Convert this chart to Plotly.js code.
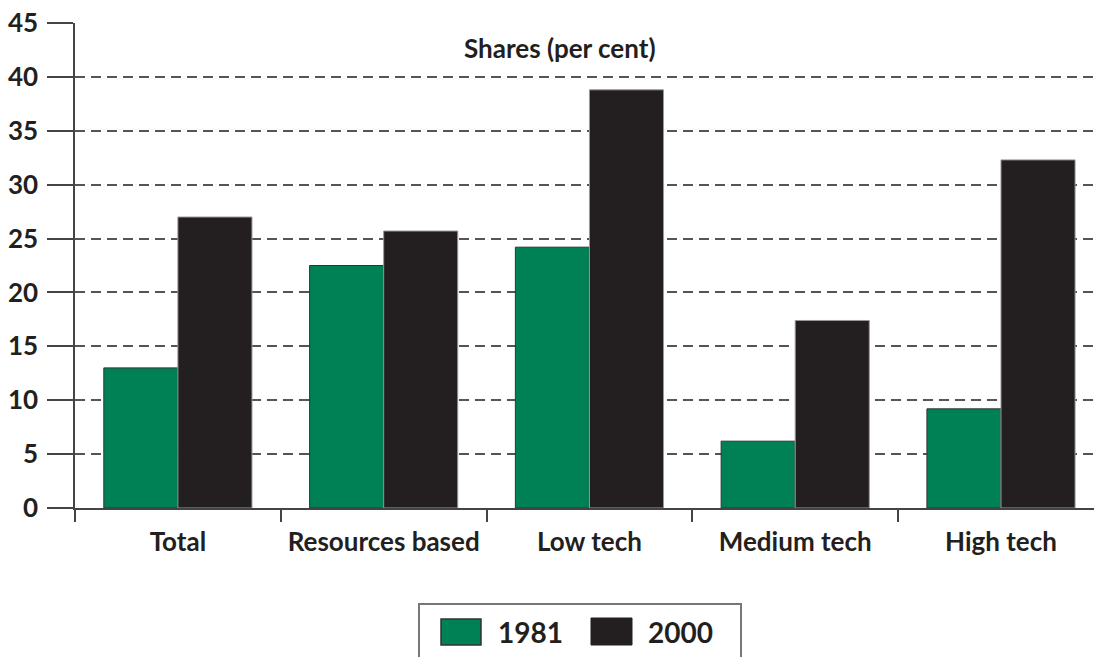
<!DOCTYPE html>
<html>
<head>
<meta charset="utf-8">
<script src="https://cdn.plot.ly/plotly-3.0.1.min.js"></script>
<style>
  html, body { margin: 0; padding: 0; background: #ffffff; }
  #chart { width: 1094px; height: 657px; }
</style>
</head>
<body>
<div id="chart"></div>
<script>
// ---- data ----
var categories = ["Total", "Resources based", "Low tech", "Medium tech", "High tech"];
var seriesNames = ["1981", "2000"];
var values1981 = [13.0, 22.5, 24.2, 6.2, 9.2];
var values2000 = [27.0, 25.7, 38.8, 17.4, 32.3];
var yTickValues = [0, 5, 10, 15, 20, 25, 30, 35, 40, 45];
var yTitle = "Shares (per cent)";

// ---- styles ----
var green = "#008055";
var black = "#231f20";
var textColor = "#231f20";
var fontFamily = "Lato, 'Open Sans', 'DejaVu Sans', sans-serif";

var traces = [
  {
    type: "bar", name: seriesNames[0], x: categories, y: values1981,
    marker: { color: green, line: { color: "#333333", width: 1 } },
    showlegend: false
  },
  {
    type: "bar", name: seriesNames[1], x: categories, y: values2000,
    marker: { color: black, line: { color: "#9a9a9a", width: 1 } },
    showlegend: false
  }
];

// legend drawn in paper coordinates (plot area: x 75..1094, y 23..508)
function px(x) { return (x - 75) / 1019; }
function py(y) { return (508 - y) / 485; }

var shapes = [
  { type: "rect", xref: "paper", yref: "paper", x0: px(419), x1: px(741), y0: py(604), y1: py(700),
    line: { color: "#777777", width: 2 }, fillcolor: "rgba(0,0,0,0)" },
  { type: "rect", xref: "paper", yref: "paper", x0: px(441), x1: px(481), y0: py(619), y1: py(645),
    line: { color: "#333333", width: 1.5 }, fillcolor: green },
  { type: "rect", xref: "paper", yref: "paper", x0: px(591), x1: px(632), y0: py(618), y1: py(645),
    line: { color: black, width: 1 }, fillcolor: black }
];

var annotations = [
  { xref: "paper", yref: "paper", x: px(560), y: py(48), text: yTitle,
    showarrow: false, xanchor: "center", yanchor: "middle",
    font: { family: fontFamily, size: 26, weight: "bold", color: textColor } },
  { xref: "paper", yref: "paper", x: px(496), y: py(632), text: seriesNames[0],
    showarrow: false, xanchor: "left", yanchor: "middle",
    font: { family: fontFamily, size: 28, weight: "bold", color: textColor } },
  { xref: "paper", yref: "paper", x: px(646), y: py(632), text: seriesNames[1],
    showarrow: false, xanchor: "left", yanchor: "middle",
    font: { family: fontFamily, size: 28, weight: "bold", color: textColor } }
];

var layout = {
  width: 1094, height: 657,
  margin: { l: 75, r: 0, t: 23, b: 149 },
  paper_bgcolor: "#ffffff", plot_bgcolor: "#ffffff",
  barmode: "group", bargap: 0.28, bargroupgap: 0,
  font: { family: fontFamily, color: textColor },
  xaxis: {
    type: "category",
    range: [-0.5, 4.452],
    showline: true, linecolor: "#444444", linewidth: 1.5,
    ticks: "outside", tickson: "boundaries", ticklen: 12, tickwidth: 1.5, tickcolor: "#444444",
    ticklabelstandoff: 10,
    showgrid: false, zeroline: false,
    tickfont: { family: fontFamily, size: 26, weight: "bold", color: textColor }
  },
  yaxis: {
    range: [0, 45], tickvals: yTickValues,
    showline: true, linecolor: "#444444", linewidth: 1.5,
    ticks: "outside", ticklen: 26, tickwidth: 1.5, tickcolor: "#444444",
    ticklabelstandoff: 4,
    showgrid: true, gridcolor: "#555555", gridwidth: 1.5, griddash: "10px,6px",
    zeroline: false,
    tickfont: { family: fontFamily, size: 26, weight: "bold", color: textColor }
  },
  shapes: shapes,
  annotations: annotations,
  showlegend: false
};

Plotly.newPlot("chart", traces, layout, { displayModeBar: false, responsive: false });
</script>
</body>
</html>
